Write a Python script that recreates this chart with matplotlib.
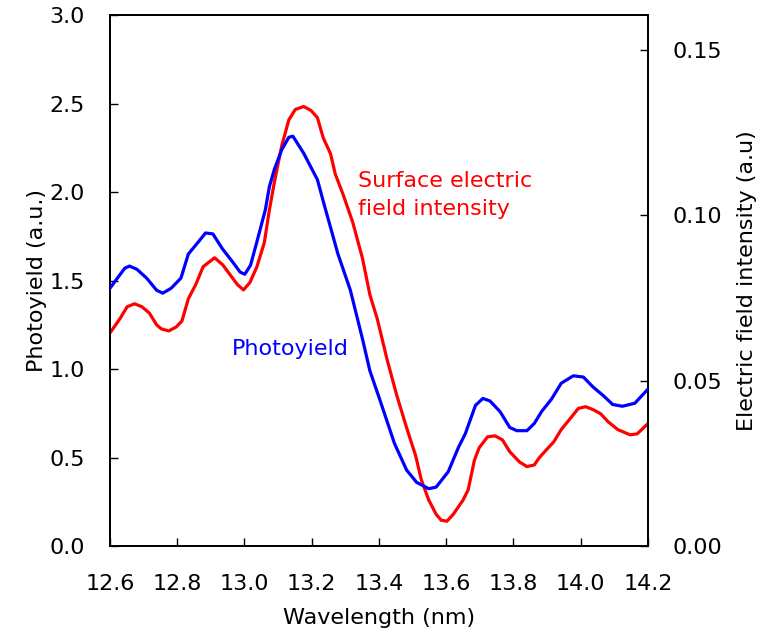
import matplotlib
matplotlib.use("Agg")
import matplotlib.pyplot as plt

plt.rcParams['font.family'] = ['DejaVu Sans']

# photoyield (left axis, a.u.)
wl_py = [12.600, 12.622, 12.644, 12.658, 12.680, 12.709, 12.739, 12.757, 12.782, 12.811,
         12.833, 12.863, 12.884, 12.906, 12.935, 12.965, 12.987, 13.001, 13.018, 13.037,
         13.062, 13.074, 13.089, 13.111, 13.132, 13.144, 13.176, 13.217, 13.234, 13.278,
         13.315, 13.351, 13.373, 13.402, 13.446, 13.482, 13.512, 13.548, 13.570, 13.606,
         13.636, 13.657, 13.687, 13.709, 13.730, 13.760, 13.789, 13.810, 13.840, 13.862,
         13.884, 13.913, 13.942, 13.978, 14.008, 14.037, 14.066, 14.095, 14.124, 14.161,
         14.200]
photoyield = [1.457, 1.514, 1.570, 1.582, 1.564, 1.514, 1.445, 1.429, 1.457, 1.514,
              1.650, 1.719, 1.769, 1.764, 1.678, 1.605, 1.548, 1.536, 1.587, 1.720,
              1.900, 2.030, 2.130, 2.240, 2.310, 2.316, 2.220, 2.070, 1.950, 1.650,
              1.445, 1.170, 0.990, 0.830, 0.580, 0.430, 0.360, 0.324, 0.333, 0.420,
              0.556, 0.636, 0.795, 0.834, 0.820, 0.760, 0.670, 0.652, 0.652, 0.693,
              0.761, 0.830, 0.920, 0.962, 0.955, 0.898, 0.852, 0.800, 0.790, 0.807,
              0.887]

# surface electric field intensity (right axis, a.u)
wl_ef = [12.600, 12.629, 12.651, 12.673, 12.695, 12.717, 12.739, 12.753, 12.775, 12.797,
         12.814, 12.833, 12.855, 12.877, 12.911, 12.935, 12.957, 12.979, 12.997, 13.016,
         13.037, 13.059, 13.074, 13.089, 13.111, 13.132, 13.151, 13.176, 13.198, 13.217,
         13.234, 13.256, 13.270, 13.293, 13.322, 13.351, 13.373, 13.395, 13.424, 13.453,
         13.482, 13.509, 13.526, 13.548, 13.570, 13.585, 13.602, 13.621, 13.650, 13.665,
         13.684, 13.698, 13.723, 13.745, 13.767, 13.789, 13.818, 13.840, 13.862, 13.876,
         13.898, 13.920, 13.942, 13.971, 13.993, 14.015, 14.037, 14.059, 14.081, 14.110,
         14.147, 14.168, 14.200]
efield = [0.0644, 0.0686, 0.0723, 0.0732, 0.0723, 0.0704, 0.0668, 0.0656, 0.0650, 0.0662,
          0.0680, 0.0747, 0.0790, 0.0844, 0.0871, 0.0850, 0.0820, 0.0790, 0.0774, 0.0796,
          0.0844, 0.0917, 0.1015, 0.1100, 0.1210, 0.1288, 0.1319, 0.1328, 0.1316, 0.1294,
          0.1234, 0.1185, 0.1124, 0.1063, 0.0978, 0.0869, 0.0759, 0.0686, 0.0564, 0.0455,
          0.0358, 0.0273, 0.0200, 0.0139, 0.0096, 0.0078, 0.0075, 0.0096, 0.0139, 0.0169,
          0.0260, 0.0297, 0.0330, 0.0333, 0.0321, 0.0285, 0.0254, 0.0240, 0.0245, 0.0266,
          0.0291, 0.0315, 0.0352, 0.0388, 0.0416, 0.0421, 0.0412, 0.0400, 0.0376, 0.0352,
          0.0336, 0.0339, 0.0370]

xticks = [12.6, 12.8, 13.0, 13.2, 13.4, 13.6, 13.8, 14.0, 14.2]
lticks = [0.0, 0.5, 1.0, 1.5, 2.0, 2.5, 3.0]
rticks = [0.00, 0.05, 0.10, 0.15]

fig = plt.figure(figsize=(7.67, 6.32), dpi=100)
ax = fig.add_axes([0.1434, 0.136, 0.7014, 0.840])
ax2 = ax.twinx()

ax.plot(wl_py, photoyield, color='#0000ff', lw=2.3, zorder=3)
ax2.plot(wl_ef, efield, color='#ff0000', lw=2.3)
ax.set_zorder(ax2.get_zorder() + 1)
ax.patch.set_visible(False)

ax.set_xlim(12.6, 14.2)
ax.set_ylim(0, 3.0)
ax2.set_ylim(0, 0.1604)
ax.set_xticks(xticks)
ax.set_xticklabels([f'{v:.1f}' for v in xticks])
ax.set_yticks(lticks)
ax.set_yticklabels([f'{v:.1f}' for v in lticks])
ax2.set_yticks(rticks)
ax2.set_yticklabels([f'{v:.2f}' for v in rticks])

ax.tick_params(axis='x', direction='in', length=6, width=1, labelsize=16, pad=20)
ax.tick_params(axis='y', direction='in', length=6, width=1, labelsize=16, pad=18)
ax2.tick_params(axis='y', direction='in', length=6, width=1, labelsize=16, pad=18)
for a in (ax, ax2):
    for s in a.spines.values():
        s.set_linewidth(1.3)

ax.set_xlabel('Wavelength (nm)', fontsize=16, labelpad=10)
ax.set_ylabel('Photoyield (a.u.)', fontsize=16, labelpad=2)
ax2.set_ylabel('Electric field intensity (a.u)', fontsize=16, labelpad=10)

ax.text(13.338, 1.983, 'Surface electric\nfield intensity', color='#ff0000',
        fontsize=16, va='center', ha='left', linespacing=1.5)
ax.text(12.963, 1.113, 'Photoyield', color='#0000ff', fontsize=16,
        va='center', ha='left')

fig.savefig('out.png', dpi=100)
